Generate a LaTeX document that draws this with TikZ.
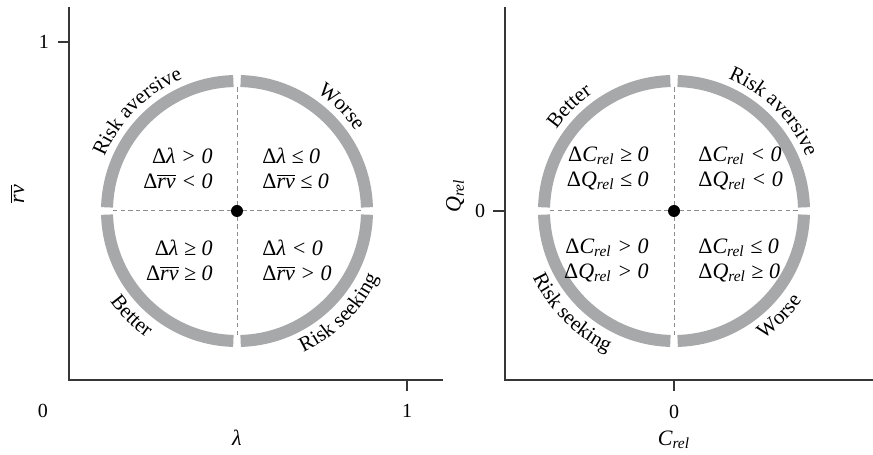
\documentclass[tikz,border=0pt]{standalone}
\usepackage{fontspec}
\setmainfont{Liberation Serif}
\usetikzlibrary{decorations.text}
\definecolor{ringgray}{HTML}{A6A8A9}
\definecolor{axisdark}{HTML}{363636}
\definecolor{guidegray}{HTML}{8C8C8C}
\newcommand{\Dl}{{\upshape Δ}λ}
\newcommand{\Drv}{{\upshape Δ}$\overline{\hbox{\itshape rv}}$}
\newcommand{\Dc}{{\upshape Δ}C\textsubscript{rel}}
\newcommand{\Dq}{{\upshape Δ}Q\textsubscript{rel}}

\begin{document}
\begin{tikzpicture}[
      x=0.5pt, y=0.5pt,
      axis/.style={draw=axisdark, line width=0.65pt},
      ring/.style={draw=ringgray, line width=6pt},
      guide/.style={draw=guidegray, line width=0.5pt, dash pattern=on 2.2pt off 1.6pt},
      dot/.style={circle, fill=black, inner sep=0pt, minimum size=6pt},
      quad/.style={font=\itshape\fontsize{11}{12.5}\selectfont, inner sep=0pt},
      arclabel/.style={decorate, decoration={text along path, text align=center,
                       text={|\fontsize{10.5}{12}\selectfont|#1}}}
    ]
      \useasboundingbox (0,0) rectangle (873,455);
      \coordinate (o1) at (237,244);
      \coordinate (o2) at (674,244);

      % axes, left panel
      \draw[axis] (69,448) -- (69,75) -- (443,75);
      \draw[axis] (58,413) -- (69,413);
      \draw[axis] (407,75) -- (407,64);
      \node (ytick1) at (44,413) {1};
      \node (xzero1) at (43,44) {0};
      \node (xtick1) at (407,44) {1};
      \node[font=\fontsize{11}{12}\selectfont] (xlab1) at (237,17) {\itshape λ};
      \node[rotate=90, font=\fontsize{11}{12}\selectfont] (ylab1) at (17,261) {$\overline{\hbox{\itshape rv}}$};

      % axes, right panel
      \draw[axis] (505,448) -- (505,75) -- (873,75);
      \draw[axis] (493,244) -- (505,244);
      \draw[axis] (674,75) -- (674,64);
      \node (ytick2) at (480,244) {0};
      \node (xtick2) at (674,43) {0};
      \node[font=\fontsize{11}{12}\selectfont] (xlab2) at (674,15) {\itshape C\textsubscript{rel}};
      \node[rotate=90, font=\fontsize{11}{12}\selectfont] (ylab2) at (455,259) {\itshape Q\textsubscript{rel}};

      % rings and cross lines
      \foreach \o in {o1,o2}{
        \foreach \s in {0,90,180,270}
          \draw[ring, shift={(\o)}] ({\s+1.6}:130) arc[start angle=\s+1.6, end angle=\s+88.4, radius=130];
        \draw[guide, shift={(\o)}] (-124,0) -- (124,0);
        \draw[guide, shift={(\o)}] (0,-124) -- (0,124);
      }
      \node[dot] (d1) at (o1) {};
      \node[dot] (d2) at (o2) {};

      % quadrant conditions
      \node[quad, anchor=east, align=right] (tl1) at (213,286.5) {\Dl{} > 0\\\Drv{} < 0};
      \node[quad, anchor=west, align=left] (tr1) at (262,286.5) {\Dl{} ≤ 0\\\Drv{} ≤ 0};
      \node[quad, anchor=east, align=right] (bl1) at (213,194.5) {\Dl{} ≥ 0\\\Drv{} ≥ 0};
      \node[quad, anchor=west, align=left] (br1) at (262,194.5) {\Dl{} < 0\\\Drv{} > 0};
      \node[quad, anchor=east, align=right] (tl2) at (649,286.5) {\Dc{} ≥ 0\\\Dq{} ≤ 0};
      \node[quad, anchor=west, align=left] (tr2) at (698,286.5) {\Dc{} < 0\\\Dq{} < 0};
      \node[quad, anchor=east, align=right] (bl2) at (649,194.5) {\Dc{} > 0\\\Dq{} > 0};
      \node[quad, anchor=west, align=left] (br2) at (698,194.5) {\Dc{} ≤ 0\\\Dq{} ≥ 0};

      % labels round the rings
      \path[arclabel={Risk aversive}, shift={(o1)}] (180:143) arc[start angle=180, end angle=90, radius=143];
      \path[arclabel={Worse}, shift={(o1)}] (90:143) arc[start angle=90, end angle=0, radius=143];
      \path[arclabel={Better}, shift={(o1)}] (180:156) arc[start angle=180, end angle=270, radius=156];
      \path[arclabel={Risk seeking}, shift={(o1)}] (270:156) arc[start angle=270, end angle=360, radius=156];
      \path[arclabel={Better}, shift={(o2)}] (180:143) arc[start angle=180, end angle=90, radius=143];
      \path[arclabel={Risk aversive}, shift={(o2)}] (90:143) arc[start angle=90, end angle=0, radius=143];
      \path[arclabel={Risk seeking}, shift={(o2)}] (180:156) arc[start angle=180, end angle=270, radius=156];
      \path[arclabel={Worse}, shift={(o2)}] (270:156) arc[start angle=270, end angle=360, radius=156];
    \end{tikzpicture}
\end{document}
